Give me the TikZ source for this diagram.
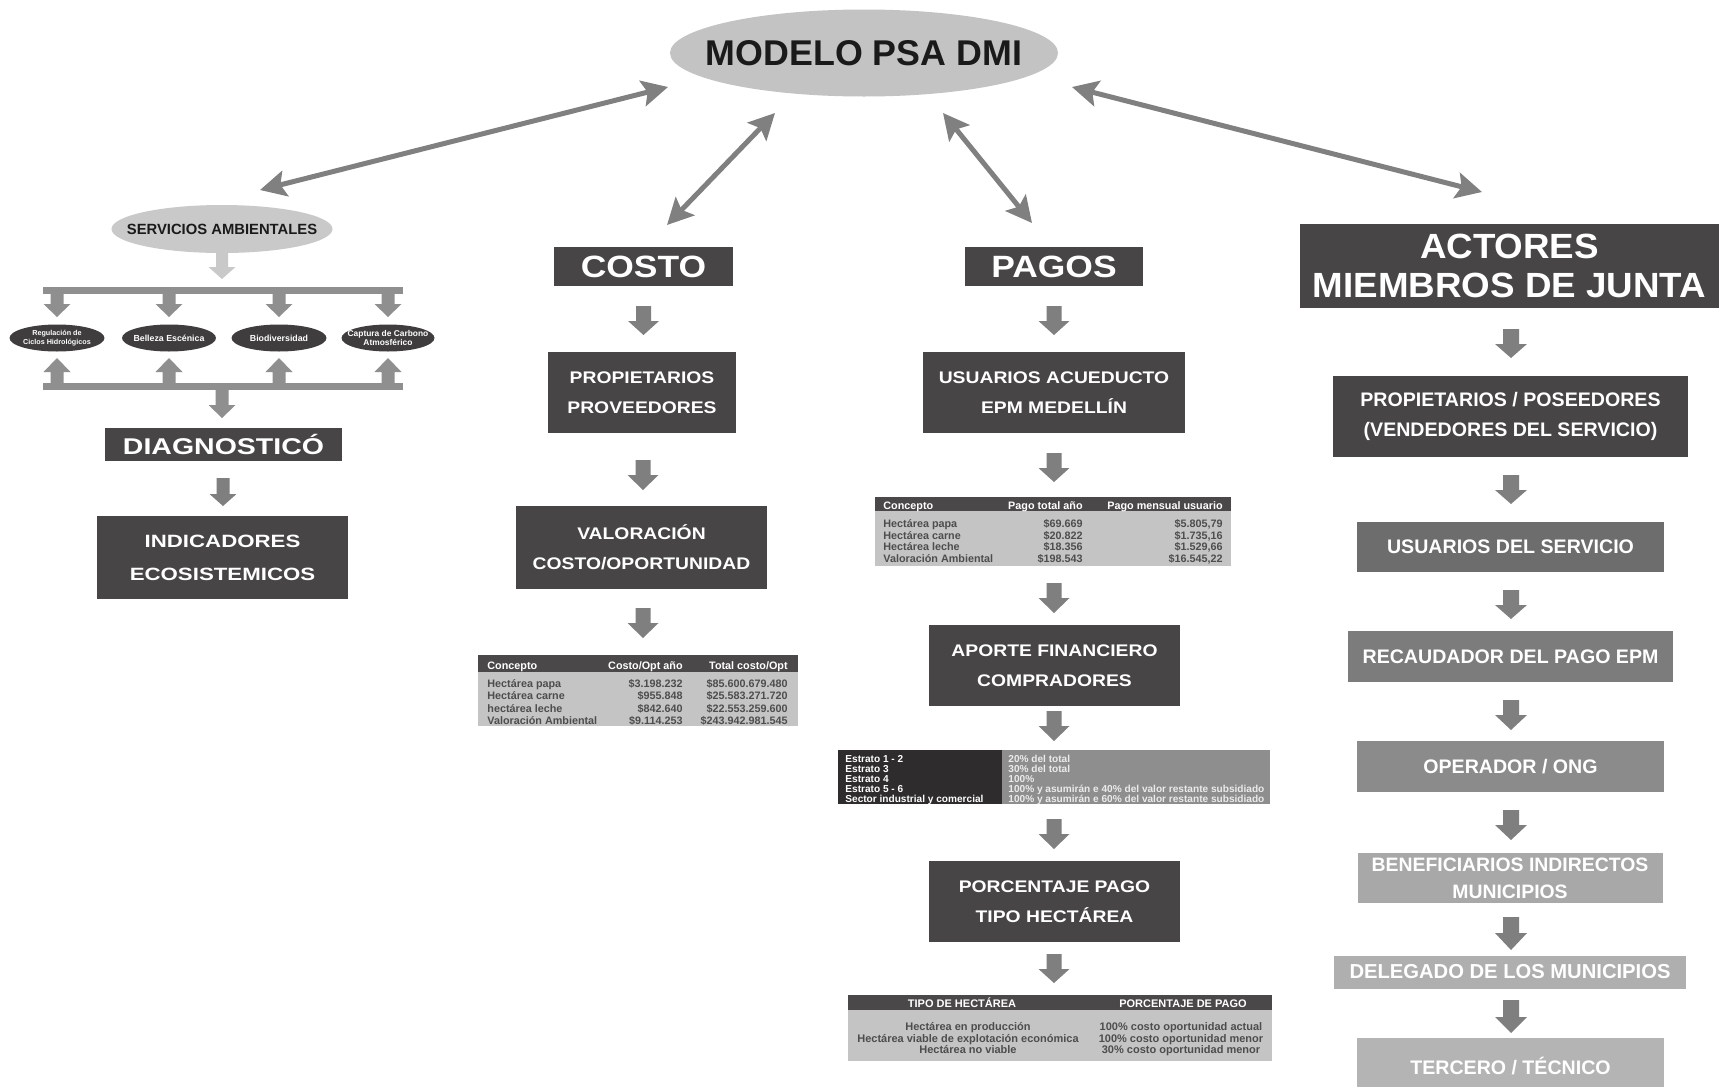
\documentclass[tikz,border=0pt]{standalone}
\usepackage{fontspec}
\setmainfont{Liberation Sans}
\newfontfamily\fA[FakeStretch=1.15]{Liberation Sans}
\newfontfamily\fB[FakeStretch=1.25]{Liberation Sans}
\newfontfamily\fC[FakeStretch=1.05]{Liberation Sans}
\usetikzlibrary{arrows.meta,shapes.geometric}
\definecolor{dbox}{HTML}{474545}
\definecolor{thead}{HTML}{4A4848}
\definecolor{tbody}{HTML}{C4C4C4}
\definecolor{ttext}{HTML}{4D4D4D}
\definecolor{tlft}{HTML}{2E2C2C}
\definecolor{trgt}{HTML}{8E8E8E}
\definecolor{agray}{HTML}{808080}
\definecolor{barr}{HTML}{7F7F7F}
\definecolor{barl}{HTML}{8F8F8F}
\definecolor{lgray}{HTML}{C9C9C9}
\definecolor{mgray}{HTML}{C3C3C3}
\definecolor{dell}{HTML}{3F3D3D}
\definecolor{txtd}{HTML}{1A1A1A}
\definecolor{ca}{HTML}{6D6D6D}
\definecolor{cb}{HTML}{7C7C7C}
\definecolor{cc}{HTML}{8B8B8B}
\definecolor{cd}{HTML}{A8A8A8}
\definecolor{ce}{HTML}{AFAFAF}
\definecolor{cf}{HTML}{B4B4B4}
\newcommand\fs[2]{\fontsize{#1}{#2}\selectfont}
% vertical block arrow: x, y base, y head base, y tip, shaft width, head width, colour
\newcommand\varr[7]{\fill[#7] (#1-#5/2,#2) -- (#1+#5/2,#2) -- (#1+#5/2,#3) -- (#1+#6/2,#3) -- (#1,#4) -- (#1-#6/2,#3) -- (#1-#5/2,#3) -- cycle;}
\begin{document}
\begin{tikzpicture}[x=0.5pt,y=-0.5pt,
  elli/.style={ellipse, inner sep=0pt, draw=none},
  bx/.style={rectangle, inner sep=0pt, fill=dbox, text=white, align=center},
  lbl/.style={inner sep=0pt, align=center},
  tt/.style={inner sep=0pt, font=\bfseries\fs{5.4}{6}},
  tq/.style={inner sep=0pt, font=\bfseries\fs{5.5}{6}},
  tr/.style={rectangle, inner sep=0pt, draw=none},
  dbl/.style={draw=agray, line width=2.5pt, arrows={Stealth[length=13pt,width=13pt,inset=2.5pt]-Stealth[length=13pt,width=13pt,inset=2.5pt]}},
]
\useasboundingbox (0,0) rectangle (1719,1087);
\clip (0,0) rectangle (1719,1087);
\fill[white] (0,0) rectangle (1719,1087);

% ---------- main ellipse ----------
\node[elli, fill=mgray, minimum width=194pt, minimum height=43.5pt] (model) at (864,53) {};
\node[lbl, font=\bfseries\fs{17.9}{20}, text=txtd] (modelt) at (model.center) {MODELO PSA DMI};

\coordinate (a1s) at (668,87);  \coordinate (a1e) at (260,190);
\coordinate (a2s) at (775,113); \coordinate (a2e) at (667,225);
\coordinate (a3s) at (943,113); \coordinate (a3e) at (1032,223);
\coordinate (a4s) at (1072,87); \coordinate (a4e) at (1482,192);
\draw[dbl] (a1s) -- (a1e);
\draw[dbl] (a2s) -- (a2e);
\draw[dbl] (a3s) -- (a3e);
\draw[dbl] (a4s) -- (a4e);

% ---------- left column ----------
\node[elli, fill=lgray, minimum width=110.5pt, minimum height=24pt] (serv) at (222,229) {};
\node[lbl, font=\bfseries\fs{7.4}{8}, text=txtd] (servt) at (serv.center) {SERVICIOS AMBIENTALES};
\varr{222}{253}{267}{279}{12}{27}{lgray}
\node[tr, fill=barl, minimum width=180pt, minimum height=3.5pt] (bar1) at (223,290.5) {};
\foreach \x in {57,169,279,388} {
  \varr{\x}{294}{304}{317}{13}{27}{barl}
  \varr{\x}{383}{372}{358}{13}{27}{barl}
}
\node[elli, fill=dell, minimum width=47.5pt, minimum height=13.5pt] (e1) at (57,338) {};
\node[elli, fill=dell, minimum width=47pt, minimum height=13.5pt] (e2) at (169,338) {};
\node[elli, fill=dell, minimum width=47.5pt, minimum height=13.5pt] (e3) at (279,338) {};
\node[elli, fill=dell, minimum width=46.5pt, minimum height=13.5pt] (e4) at (388,338) {};
\node[lbl, text=white, font=\bfseries\fs{3.6}{3.3}] (e1t) at (e1.center) {Regulación de\\Ciclos Hidrológicos};
\node[lbl, text=white, font=\bfseries\fs{4.4}{5}] (e2t) at (e2.center) {Belleza Escénica};
\node[lbl, text=white, font=\bfseries\fs{4.4}{5}] (e3t) at (e3.center) {Biodiversidad};
\node[lbl, text=white, font=\bfseries\fs{4.2}{3.4}] (e4t) at (e4.center) {Captura de Carbono\\Atmosférico};
\node[tr, fill=barl, minimum width=180pt, minimum height=3.5pt] (bar2) at (223,386.5) {};
\varr{222}{390}{405}{418}{13}{27}{barl}
\node[bx, minimum width=118.5pt, minimum height=16.5pt, font=\fB\bfseries\fs{11.4}{13}] (diag) at (223.5,444.5) {DIAGNOSTICÓ};
\varr{223}{478}{494}{506}{13}{27}{barr}
\node[bx, minimum width=125.5pt, minimum height=41.5pt, font=\fB\bfseries\fs{8.9}{16.5}] (indic) at (222.5,557.5) {INDICADORES\\ECOSISTEMICOS};

% ---------- COSTO column ----------
\node[bx, minimum width=89.5pt, minimum height=19.5pt, font=\fA\bfseries\fs{15.4}{17}] (costo) at (643.5,266.5) {COSTO};
\varr{643.5}{306}{321}{335}{15}{31}{barr}
\node[bx, minimum width=94pt, minimum height=40.5pt, font=\fA\bfseries\fs{8.4}{14.8}] (prop) at (642,392.5) {PROPIETARIOS\\PROVEEDORES};
\varr{643}{460}{475}{490}{15}{31}{barr}
\node[bx, minimum width=125.5pt, minimum height=41.5pt, font=\fA\bfseries\fs{8.4}{14.8}] (valor) at (641.5,547.5) {VALORACIÓN\\COSTO/OPORTUNIDAD};
\varr{643}{608}{623}{638}{15}{31}{barr}
% table 1
\node[tr, fill=thead, minimum width=160pt, minimum height=8.5pt, anchor=north west] (t1h) at (478,655) {};
\node[tr, fill=tbody, minimum width=160pt, minimum height=27pt, anchor=north west] (t1b) at (478,672) {};
\node[tt, text=white, anchor=mid west] (t1h1) at (487,664) {Concepto};
\node[tt, text=white, anchor=mid east] (t1h2) at (683,664) {Costo/Opt año};
\node[tt, text=white, anchor=mid east] (t1h3) at (788,664) {Total costo/Opt};
\node[tt, text=ttext, anchor=mid west] (t1a1) at (487,682) {Hectárea papa};
\node[tt, text=ttext, anchor=mid east] (t1a2) at (683,682) {\$3.198.232};
\node[tt, text=ttext, anchor=mid east] (t1a3) at (788,682) {\$85.600.679.480};
\node[tt, text=ttext, anchor=mid west] (t1b1) at (487,694) {Hectárea carne};
\node[tt, text=ttext, anchor=mid east] (t1b2) at (683,694) {\$955.848};
\node[tt, text=ttext, anchor=mid east] (t1b3) at (788,694) {\$25.583.271.720};
\node[tt, text=ttext, anchor=mid west] (t1c1) at (487,707) {hectárea leche};
\node[tt, text=ttext, anchor=mid east] (t1c2) at (683,707) {\$842.640};
\node[tt, text=ttext, anchor=mid east] (t1c3) at (788,707) {\$22.553.259.600};
\node[tt, text=ttext, anchor=mid west] (t1d1) at (487,719) {Valoración Ambiental};
\node[tt, text=ttext, anchor=mid east] (t1d2) at (683,719) {\$9.114.253};
\node[tt, text=ttext, anchor=mid east] (t1d3) at (788,719) {\$243.942.981.545};

% ---------- PAGOS column ----------
\node[bx, minimum width=89pt, minimum height=19.5pt, font=\fA\bfseries\fs{15.4}{17}] (pagos) at (1054,266.5) {PAGOS};
\varr{1054}{306}{321}{335}{15}{31}{barr}
\node[bx, minimum width=131pt, minimum height=40.5pt, font=\fA\bfseries\fs{8.4}{14.8}] (usu) at (1054,392.5) {USUARIOS ACUEDUCTO\\EPM MEDELLÍN};
\varr{1054}{453}{468}{482}{15}{31}{barr}
% table 2
\node[tr, fill=thead, minimum width=178pt, minimum height=7pt, anchor=north west] (t2h) at (875,497) {};
\node[tr, fill=tbody, minimum width=178pt, minimum height=27.5pt, anchor=north west] (t2b) at (875,511) {};
\node[tt, text=white, anchor=mid west] (t2h1) at (883,504) {Concepto};
\node[tt, text=white, anchor=mid east] (t2h2) at (1083,504) {Pago total año};
\node[tt, text=white, anchor=mid east] (t2h3) at (1223,504) {Pago mensual usuario};
\node[tt, text=ttext, anchor=mid west] (t2a1) at (883,522) {Hectárea papa};
\node[tt, text=ttext, anchor=mid east] (t2a2) at (1083,522) {\$69.669};
\node[tt, text=ttext, anchor=mid east] (t2a3) at (1223,522) {\$5.805,79};
\node[tt, text=ttext, anchor=mid west] (t2b1) at (883,534) {Hectárea carne};
\node[tt, text=ttext, anchor=mid east] (t2b2) at (1083,534) {\$20.822};
\node[tt, text=ttext, anchor=mid east] (t2b3) at (1223,534) {\$1.735,16};
\node[tt, text=ttext, anchor=mid west] (t2c1) at (883,545) {Hectárea leche};
\node[tt, text=ttext, anchor=mid east] (t2c2) at (1083,545) {\$18.356};
\node[tt, text=ttext, anchor=mid east] (t2c3) at (1223,545) {\$1.529,66};
\node[tt, text=ttext, anchor=mid west] (t2d1) at (883,557) {Valoración Ambiental};
\node[tt, text=ttext, anchor=mid east] (t2d2) at (1083,557) {\$198.543};
\node[tt, text=ttext, anchor=mid east] (t2d3) at (1223,557) {\$16.545,22};
\varr{1054}{583}{598}{613}{15}{31}{barr}
\node[bx, minimum width=125.5pt, minimum height=40.5pt, font=\fA\bfseries\fs{8.4}{14.8}] (aporte) at (1054.5,665.5) {APORTE FINANCIERO\\COMPRADORES};
\varr{1054}{711}{726}{741}{15}{31}{barr}
% table 3
\node[tr, fill=tlft, minimum width=82pt, minimum height=27pt, anchor=north west] (t3l) at (838,750) {};
\node[tr, fill=trgt, minimum width=134pt, minimum height=27pt, anchor=north west] (t3r) at (1002,750) {};
\node[tt, font=\bfseries\fs{5.05}{5}, text=white, anchor=mid west] (t3a1) at (845,757) {Estrato 1 - 2};
\node[tt, font=\bfseries\fs{5.05}{5}, text=white, anchor=mid west] (t3b1) at (845,767) {Estrato 3};
\node[tt, font=\bfseries\fs{5.05}{5}, text=white, anchor=mid west] (t3c1) at (845,777) {Estrato 4};
\node[tt, font=\bfseries\fs{5.05}{5}, text=white, anchor=mid west] (t3d1) at (845,787) {Estrato 5 - 6};
\node[tt, font=\bfseries\fs{5.05}{5}, text=white, anchor=mid west] (t3e1) at (845,797) {Sector industrial y comercial};
\node[tt, font=\bfseries\fs{5.05}{5}, text=white!92!black, anchor=mid west] (t3a2) at (1008,757) {20\% del total};
\node[tt, font=\bfseries\fs{5.05}{5}, text=white!92!black, anchor=mid west] (t3b2) at (1008,767) {30\% del total};
\node[tt, font=\bfseries\fs{5.05}{5}, text=white!92!black, anchor=mid west] (t3c2) at (1008,777) {100\%};
\node[tt, font=\bfseries\fs{5.05}{5}, text=white!92!black, anchor=mid west] (t3d2) at (1008,787) {100\% y asumirán e 40\% del valor restante subsidiado};
\node[tt, font=\bfseries\fs{5.05}{5}, text=white!92!black, anchor=mid west] (t3e2) at (1008,797) {100\% y asumirán e 60\% del valor restante subsidiado};
\varr{1054}{819}{834}{849}{15}{31}{barr}
\node[bx, minimum width=125.5pt, minimum height=40.5pt, font=\fA\bfseries\fs{8.4}{14.8}] (porc) at (1054.5,901.5) {PORCENTAJE PAGO\\TIPO HECTÁREA};
\varr{1054}{954}{969}{983}{15}{31}{barr}
% table 4
\node[tr, fill=thead, minimum width=212pt, minimum height=7.5pt, anchor=north west] (t4h) at (848,995) {};
\node[tr, fill=tbody, minimum width=212pt, minimum height=25.5pt, anchor=north west] (t4b) at (848,1010) {};
\node[tq, text=white, anchor=mid] (t4h1) at (962,1002) {TIPO DE HECTÁREA};
\node[tq, text=white, anchor=mid] (t4h2) at (1183,1002) {PORCENTAJE DE PAGO};
\node[tq, text=ttext, anchor=mid] (t4a1) at (968,1025) {Hectárea en producción};
\node[tq, text=ttext, anchor=mid] (t4b1) at (968,1037) {Hectárea viable de explotación económica};
\node[tq, text=ttext, anchor=mid] (t4c1) at (968,1048) {Hectárea no viable};
\node[tq, text=ttext, anchor=mid] (t4a2) at (1181,1025) {100\% costo oportunidad actual};
\node[tq, text=ttext, anchor=mid] (t4b2) at (1181,1037) {100\% costo oportunidad menor};
\node[tq, text=ttext, anchor=mid] (t4c2) at (1181,1048) {30\% costo oportunidad menor};

% ---------- ACTORES column ----------
\node[bx, minimum width=209.5pt, minimum height=42pt, font=\fC\bfseries\fs{17.5}{19.5}] (actores) at (1509.5,266) {ACTORES\\MIEMBROS DE JUNTA};
\varr{1511}{329}{344}{358}{16}{32}{barr}
\node[bx, minimum width=177.5pt, minimum height=40.5pt, font=\bfseries\fs{9.8}{14.8}] (propos) at (1510.5,416.5) {PROPIETARIOS / POSEEDORES\\(VENDEDORES DEL SERVICIO)};
\varr{1511}{475}{490}{504}{16}{32}{barr}
\node[bx, fill=ca, minimum width=153.5pt, minimum height=25pt, font=\bfseries\fs{9.8}{12}] (ususerv) at (1510.5,547) {USUARIOS DEL SERVICIO};
\varr{1511}{590}{605}{619}{16}{32}{barr}
\node[bx, fill=cb, minimum width=162.5pt, minimum height=25.5pt, font=\bfseries\fs{9.8}{12}] (recaud) at (1510.5,656.5) {RECAUDADOR DEL PAGO EPM};
\varr{1511}{700}{715}{730}{16}{32}{barr}
\node[bx, fill=cc, minimum width=153.5pt, minimum height=25.5pt, font=\bfseries\fs{9.8}{12}] (oper) at (1510.5,766.5) {OPERADOR / ONG};
\varr{1511}{810}{825}{840}{16}{32}{barr}
\node[bx, fill=cd, minimum width=152.5pt, minimum height=25pt, font=\bfseries\fs{9.7}{13.5}] (benef) at (1510,878) {BENEFICIARIOS INDIRECTOS\\MUNICIPIOS};
\varr{1511}{917}{933}{950}{16}{32}{barr}
\node[bx, fill=ce, minimum width=176pt, minimum height=16.5pt, font=\bfseries\fs{10.1}{12}] (deleg) at (1510,972) {DELEGADO DE LOS MUNICIPIOS};
\varr{1511}{1000}{1017}{1033}{16}{32}{barr}
\node[bx, fill=cf, minimum width=153.5pt, minimum height=28pt, font=\bfseries\fs{9.8}{12}] (terc) at (1510.5,1066) {TERCERO / TÉCNICO};
\end{tikzpicture}
\end{document}
